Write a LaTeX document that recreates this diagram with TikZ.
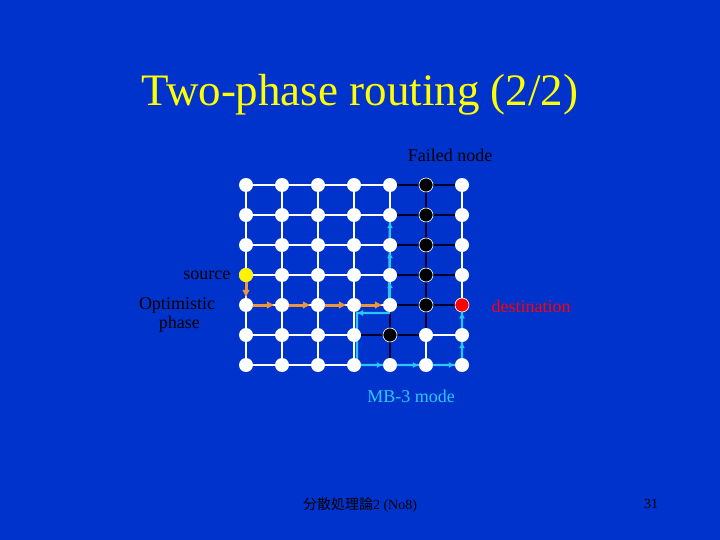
\documentclass[tikz,border=0pt]{standalone}
\usepackage{fontspec}
\setmainfont{Liberation Serif}
\newfontfamily\cjk{Noto Sans CJK JP}
\usetikzlibrary{arrows.meta}
\pgfdeclarelayer{bglayer}
\pgfdeclarelayer{edges}
\pgfsetlayers{bglayer,edges,main}
\definecolor{bg}{RGB}{0,51,204}
\definecolor{cy}{RGB}{40,200,255}
\definecolor{orn}{RGB}{235,150,60}
\definecolor{ttl}{RGB}{255,255,0}
\definecolor{dk}{RGB}{0,0,40}
\tikzset{
 gn/.style={circle,fill=white,inner sep=0pt,minimum size=14pt},
 bn/.style={circle,fill=black,draw=white,line width=0.6pt,inner sep=0pt,minimum size=14pt},
 wl/.style={white,line width=1.3pt},
 bl/.style={dk,line width=1.3pt},
 cyl/.style={cy,line width=2.2pt,-{Latex[length=6pt,width=6pt]}},
 orl/.style={orn,line width=3pt,-{Latex[length=8pt,width=8pt]}},
 lbl/.style={font=\fontsize{18}{19}\selectfont,black}
}
\begin{document}
\begin{tikzpicture}[x=1pt,y=-1pt]
\begin{pgfonlayer}{bglayer}
\fill[bg] (0,0) rectangle (720,540);
\end{pgfonlayer}
\useasboundingbox (0,0) rectangle (720,540);
\node[ttl,font=\fontsize{45}{48}\selectfont] (title) at (360,95) {Two-phase routing (2/2)};
\foreach \i in {0,...,6} \foreach \j in {0,...,6} {
  \pgfmathtruncatemacro\isb{(\i==5 && \j<5) || (\i==4 && \j==5) ? 1 : 0}
  \ifnum\isb=1
    \node[bn] (n-\i-\j) at ({246+36*\i},{185+30*\j}) {};
  \else
    \node[gn] (n-\i-\j) at ({246+36*\i},{185+30*\j}) {};
  \fi
}
\node[gn,fill=yellow] (n-0-3) at (246,275) {};
\node[bn,fill=red] (n-6-4) at (462,305) {};
\begin{pgfonlayer}{edges}
\foreach \i in {0,...,6} \foreach \j in {0,...,6} {
  \pgfmathtruncatemacro\a{(\i==5 && \j<5) || (\i==4 && \j==5) ? 1 : 0}
  \ifnum\i<6
    \pgfmathtruncatemacro\ii{\i+1}
    \pgfmathtruncatemacro\b{(\ii==5 && \j<5) || (\ii==4 && \j==5) ? 1 : 0}
    \pgfmathtruncatemacro\c{\a+\b}
    \ifnum\c>0 \draw[bl] (n-\i-\j.center) -- (n-\ii-\j.center); \else \draw[wl] (n-\i-\j.center) -- (n-\ii-\j.center); \fi
  \fi
  \ifnum\j<6
    \pgfmathtruncatemacro\jj{\j+1}
    \pgfmathtruncatemacro\b{(\i==5 && \jj<5) || (\i==4 && \jj==5) ? 1 : 0}
    \pgfmathtruncatemacro\c{\a+\b}
    \ifnum\c>0 \draw[bl] (n-\i-\j.center) -- (n-\i-\jj.center); \else \draw[wl] (n-\i-\j.center) -- (n-\i-\jj.center); \fi
  \fi
}
\end{pgfonlayer}
% orange optimistic path
\draw[orl] (n-0-3) -- (n-0-4);
\draw[orl] (n-0-4) -- (n-1-4);
\draw[orl] (n-1-4) -- (n-2-4);
\draw[orl] (n-2-4) -- (n-3-4);
\draw[orl] (n-3-4) -- (n-4-4);
% cyan MB-3 path
\draw[cyl] (n-4-4) -- (n-4-3);
\draw[cyl] (n-4-3) -- (n-4-2);
\draw[cyl] (n-4-2) -- (n-4-1);
\coordinate (c1) at (389,313);
\coordinate (c2) at (357,313);
\coordinate (c3) at (357,365);
\draw[cyl] (c1) -- (c2);
\begin{pgfonlayer}{edges}
\draw[cy,line width=2.2pt] (n-4-1.center) -- (c1) -- (c2) -- (c3) -- (n-6-6.center) -- (n-6-4.center);
\end{pgfonlayer}
\draw[cyl] (n-3-6) -- (n-4-6);
\draw[cyl] (n-4-6) -- (n-5-6);
\draw[cyl] (n-5-6) -- (n-6-6);
\draw[cyl] (n-6-6) -- (n-6-5);
\draw[cyl] (n-6-5) -- (n-6-4);
% labels
\node[lbl] (fl) at (450,155) {Failed node};
\node[lbl,anchor=east] (src) at (234,275) {source};
\node[lbl,align=center] (opt) at (177,315) {Optimistic\\ \ phase};
\node[lbl,red] (dst) at (531,306) {destination};
\node[lbl,cy] (mb) at (411,396) {MB-3 mode};
\node[black,font=\fontsize{14}{16}\selectfont] (ft) at (360,505) {{\cjk 分散処理論}2 (No8)};
\node[black,font=\fontsize{14}{16}\selectfont] (pg) at (651,504) {31};
\end{tikzpicture}
\end{document}
